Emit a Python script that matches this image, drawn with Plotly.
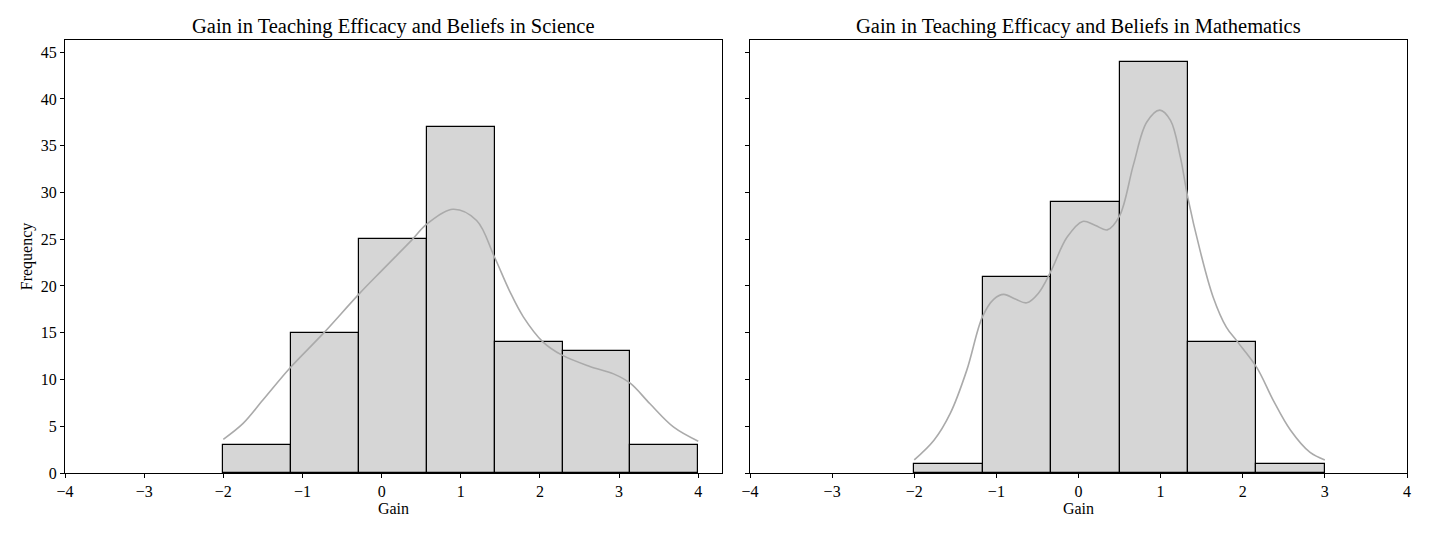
import plotly.graph_objects as go

# histogram bins and counts
sci_edges = [-2.0, -1.1429, -0.2857, 0.5714, 1.4286, 2.2857, 3.1429, 4.0]
sci_counts = [3, 15, 25, 37, 14, 13, 3]

math_edges = [-2.0, -1.1667, -0.3333, 0.5, 1.3333, 2.1667, 3.0]
math_counts = [1, 21, 29, 44, 14, 1]

# kde curves, points
sci_kde_x = [-2.0, -1.75, -1.5, -1.15, -0.74, -0.29, 0.02, 0.38, 0.57, 0.9, 1.2,
             1.42, 1.62, 1.79, 2.04, 2.28, 2.63, 2.93, 3.14, 3.39, 3.69, 4.0]
sci_kde_y = [3.6, 5.3, 7.8, 11.3, 14.9, 19.1, 21.8, 24.9, 26.6, 28.2, 27.0,
             23.2, 19.4, 16.7, 14.0, 12.6, 11.4, 10.6, 9.6, 7.4, 4.9, 3.4]

math_kde_x = [-2.0, -1.76, -1.56, -1.36, -1.17, -1.03, -0.91, -0.77, -0.63, -0.49,
              -0.34, -0.14, 0.05, 0.2, 0.35, 0.5, 0.67, 0.83, 0.99, 1.12, 1.24,
              1.33, 1.48, 1.64, 1.8, 1.93, 2.17, 2.37, 2.58, 2.82, 3.0]
math_kde_y = [1.4, 3.5, 6.4, 11.0, 16.7, 18.6, 19.1, 18.6, 18.2, 19.2,
              21.5, 25.2, 26.9, 26.5, 26.0, 27.5, 33.0, 37.5, 38.8, 37.7, 33.8,
              29.5, 23.8, 18.8, 15.6, 14.1, 11.3, 7.8, 4.6, 2.2, 1.4]

titles = ["Gain in Teaching Efficacy and Beliefs in Science",
          "Gain in Teaching Efficacy and Beliefs in Mathematics"]

font = "Liberation Serif, Times New Roman, serif"

W, H = 1430, 536
PAD = 8  # page body margin

def xdom(a, b):
    return [(a - PAD) / W, (b - PAD) / W]

fig = go.Figure()

def add_panel(edges, counts, kx, ky, xa, ya):
    centers = [(edges[i] + edges[i + 1]) / 2 for i in range(len(counts))]
    widths = [edges[i + 1] - edges[i] for i in range(len(counts))]
    fig.add_trace(go.Bar(x=centers, y=counts, width=widths,
                         marker=dict(color="#d6d6d6", line=dict(color="black", width=1.2)),
                         xaxis=xa, yaxis=ya, showlegend=False))
    fig.add_trace(go.Scatter(x=kx, y=ky, mode="lines", line=dict(color="#aaaaaa", width=1.6, shape="spline"),
                             xaxis=xa, yaxis=ya, showlegend=False))

add_panel(sci_edges, sci_counts, sci_kde_x, sci_kde_y, "x", "y")
add_panel(math_edges, math_counts, math_kde_x, math_kde_y, "x2", "y2")

axis_style = dict(showline=True, linecolor="black", linewidth=1, mirror=True,
                  ticks="outside", ticklen=4, tickcolor="black", showgrid=False,
                  zeroline=False, automargin=False,
                  tickfont=dict(family=font, size=16, color="black"))

y_top = 46.3
dom_left = xdom(65, 722)
dom_right = xdom(750, 1407)
dom_y = [1 - (473 - PAD) / H, 1 - (40 - PAD) / H]

fig.update_layout(
    width=W, height=H,
    margin=dict(l=0, r=0, t=0, b=0),
    paper_bgcolor="white", plot_bgcolor="white",
    bargap=0,
    font=dict(family=font, color="black"),
    xaxis=dict(domain=dom_left, range=[-4, 4.3], tickvals=list(range(-4, 5)),
               title=dict(text="Gain", font=dict(size=16), standoff=2), **axis_style),
    yaxis=dict(domain=dom_y, range=[0, y_top], tickvals=list(range(0, 50, 5)),
               title=dict(text="Frequency", font=dict(size=16), standoff=4), **axis_style),
    xaxis2=dict(domain=dom_right, range=[-4, 4], tickvals=list(range(-4, 5)),
                title=dict(text="Gain", font=dict(size=16), standoff=2), anchor="y2", **axis_style),
    yaxis2=dict(domain=dom_y, range=[0, y_top], tickvals=list(range(0, 50, 5)),
                showticklabels=False, anchor="x2", **axis_style),
)

for t, dom in zip(titles, [dom_left, dom_right]):
    fig.add_annotation(text=t, xref="paper", yref="paper", x=(dom[0] + dom[1]) / 2, y=dom_y[1],
                       yshift=0, xanchor="center", yanchor="bottom", showarrow=False,
                       font=dict(family=font, size=20.5, color="black"))

fig.write_html("out.html")
